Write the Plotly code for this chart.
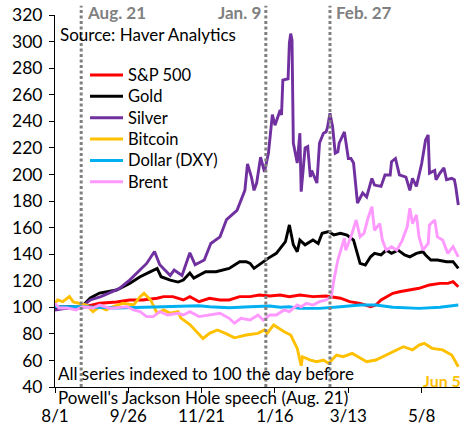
import plotly.graph_objects as go

# ---------------- data (index, day before Jackson Hole speech = 100) ----------------
sp_dates = ["2025-08-01","2025-08-05","2025-08-20","2025-09-04","2025-09-17","2025-09-27","2025-10-07",
            "2025-10-18","2025-10-23","2025-10-30","2025-11-07","2025-11-12","2025-11-19","2025-11-27",
            "2025-12-05","2025-12-12","2025-12-20","2025-12-28","2026-01-04","2026-01-12","2026-01-20",
            "2026-01-27","2026-02-04","2026-02-14","2026-02-24","2026-02-27","2026-03-07","2026-03-14",
            "2026-03-22","2026-03-30","2026-04-03","2026-04-07","2026-04-11","2026-04-16","2026-04-21",
            "2026-04-29","2026-05-06","2026-05-14","2026-05-22","2026-05-28","2026-06-01","2026-06-05"]
sp_vals = [98,100.4,99.5,103,104,105.5,105.5,106.8,108,108,105.5,108,104.2,106.8,105.5,105.5,108,108,
           109.2,108.5,109.2,108,109.2,108,108.5,108,106.8,104.2,103,100.4,101.7,105.5,108,110.5,111.7,
           113,114.3,116.8,118,118,119.3,115.5]

gold_dates = ["2025-08-01","2025-08-12","2025-08-21","2025-08-28","2025-09-04","2025-09-17","2025-09-27",
              "2025-10-05","2025-10-13","2025-10-18","2025-10-21","2025-10-28","2025-11-03","2025-11-07",
              "2025-11-12","2025-11-15","2025-11-24","2025-12-02","2025-12-12","2025-12-20","2025-12-25",
              "2025-12-28","2025-12-31","2026-01-05","2026-01-11","2026-01-17","2026-01-21","2026-01-24",
              "2026-01-27","2026-01-30","2026-02-02","2026-02-04","2026-02-08","2026-02-12","2026-02-14",
              "2026-02-18","2026-02-21","2026-02-26","2026-03-02","2026-03-07","2026-03-12","2026-03-17",
              "2026-03-19","2026-03-22","2026-03-26","2026-03-30","2026-04-02","2026-04-07","2026-04-11",
              "2026-04-15","2026-04-20","2026-04-25","2026-04-29","2026-05-04","2026-05-09","2026-05-11",
              "2026-05-15","2026-05-20","2026-05-27","2026-06-01","2026-06-05"]
gold_vals = [99.5,100.4,100,107,110.7,113,118,123,126.8,129.3,123,120.5,119,120.5,125.8,122,126.8,126.8,
             129.3,134.3,134.3,133,129.3,133,137,140.6,145.6,149.4,162,147,141.8,150.6,147,149.4,150.6,
             148,155.7,157,154.4,155.7,154.4,150.6,143,133,131.8,138,140.6,139.4,143,140.6,143,139.4,
             138,140.6,141.8,139.4,135.6,135.6,134.3,134.3,129.3]

silver_dates = ["2025-08-01","2025-08-08","2025-08-21","2025-08-28","2025-09-05","2025-09-12","2025-09-19",
                "2025-09-27","2025-10-03","2025-10-10","2025-10-16","2025-10-20","2025-10-28","2025-10-31",
                "2025-11-06","2025-11-12","2025-11-16","2025-11-23","2025-11-28","2025-12-05","2025-12-10",
                "2025-12-18","2025-12-24","2025-12-26","2025-12-29","2025-12-31","2026-01-02","2026-01-05",
                "2026-01-08","2026-01-11","2026-01-14","2026-01-16","2026-01-20","2026-01-21","2026-01-22",
                "2026-01-26","2026-01-27","2026-01-28","2026-01-29","2026-01-30","2026-02-02","2026-02-04",
                "2026-02-05","2026-02-08","2026-02-10","2026-02-12","2026-02-13","2026-02-17","2026-02-19",
                "2026-02-22","2026-02-24","2026-02-25","2026-02-27","2026-03-01","2026-03-03","2026-03-05",
                "2026-03-06","2026-03-10","2026-03-13","2026-03-15","2026-03-17","2026-03-19","2026-03-20",
                "2026-03-24","2026-03-27","2026-03-31","2026-04-02","2026-04-07","2026-04-10","2026-04-14",
                "2026-04-15","2026-04-18","2026-04-21","2026-04-26","2026-04-29","2026-05-01","2026-05-04",
                "2026-05-08","2026-05-11","2026-05-13","2026-05-14","2026-05-18","2026-05-19","2026-05-22",
                "2026-05-25","2026-05-27","2026-05-31","2026-06-02","2026-06-03","2026-06-05"]
silver_vals = [98,99,100,105.5,108,110.7,114,120.5,126,133,142,132,124,128,124,141,132,135.6,148,153,166,
               173,188,208,198,188,193.5,213,202,216,245,237,248.5,244.7,271,272,299,306,301,223.6,208.6,
               231,187,220,221,198,203,193.5,223.6,231,232,235,246,236,216,217,223.6,232,212,212,208.6,188,
               178.5,186,183,197,192,191,199.6,199.6,209.6,212,199.6,198,188,197,191,208,226,229.7,201,203,
               196,201,205,196,197,196,191,177]

btc_dates = ["2025-08-01","2025-08-03","2025-08-07","2025-08-12","2025-08-15","2025-08-20","2025-08-25",
             "2025-08-30","2025-09-04","2025-09-09","2025-09-14","2025-09-22","2025-09-30","2025-10-05",
             "2025-10-08","2025-10-13","2025-10-18","2025-10-23","2025-10-28","2025-11-03","2025-11-05",
             "2025-11-12","2025-11-17","2025-11-22","2025-11-27","2025-12-03","2025-12-10","2025-12-16",
             "2025-12-25","2026-01-03","2026-01-08","2026-01-10","2026-01-15","2026-01-23","2026-01-28",
             "2026-02-02","2026-02-05","2026-02-06","2026-02-12","2026-02-17","2026-02-22","2026-02-26",
             "2026-03-04","2026-03-09","2026-03-16","2026-03-27","2026-04-03","2026-04-11","2026-04-19",
             "2026-04-24","2026-05-01","2026-05-06","2026-05-10","2026-05-16","2026-05-24","2026-05-31",
             "2026-06-05"]
btc_vals = [103,105.5,104.2,108,104,103,101.7,96.7,100.4,98,100.4,103,101.7,108,110.5,105.5,95.5,98,95.5,
            96.7,92,87,81.6,76.5,80.4,82.9,80,77,79.1,80.4,83,80.4,86.7,81.6,79.1,69,56,62.8,60.3,59,60.3,
            57.8,64,62.8,65.3,59,60.3,64,67.9,70.3,67.9,71.6,72.9,69.1,67.9,64,55.3]

dxy_dates = ["2025-08-01","2025-08-21","2025-09-17","2025-10-13","2025-11-07","2025-11-19","2025-11-27",
             "2025-12-12","2025-12-28","2026-01-12","2026-01-20","2026-01-27","2026-02-04","2026-02-19",
             "2026-03-07","2026-03-22","2026-04-03","2026-04-16","2026-05-06","2026-05-22","2026-06-05"]
dxy_vals = [100.5,100.4,99.5,100.2,101,101.2,100.4,99.7,100.4,101,100,100.4,99.2,99.2,100.4,101.7,101.7,
            100,99.2,100,101.7]

brent_dates = ["2025-08-01","2025-08-04","2025-08-10","2025-08-17","2025-08-22","2025-08-30","2025-09-04",
               "2025-09-12","2025-09-25","2025-09-30","2025-10-05","2025-10-10","2025-10-15","2025-10-20",
               "2025-10-26","2025-11-03","2025-11-07","2025-11-12","2025-11-19","2025-11-27","2025-12-05",
               "2025-12-12","2025-12-16","2025-12-21","2025-12-28","2026-01-03","2026-01-07","2026-01-12",
               "2026-01-17","2026-01-23","2026-01-27","2026-02-02","2026-02-05","2026-02-09","2026-02-14",
               "2026-02-19","2026-02-24","2026-02-28","2026-03-02","2026-03-05","2026-03-07","2026-03-10",
               "2026-03-11","2026-03-15","2026-03-19","2026-03-22","2026-03-25","2026-03-28","2026-03-31",
               "2026-04-02","2026-04-06","2026-04-08","2026-04-11","2026-04-15","2026-04-19","2026-04-23",
               "2026-04-27","2026-04-29","2026-05-01","2026-05-04","2026-05-06","2026-05-09","2026-05-13",
               "2026-05-14","2026-05-18","2026-05-20","2026-05-24","2026-05-28","2026-06-01","2026-06-05"]
brent_vals = [103,99.5,99.5,98,100.4,99.5,101.7,99.2,100.4,98,96.7,93,93,96.7,94.2,95.5,94.2,96.7,93,94.2,
              95.5,91.7,88,91.7,90.4,94.2,90.4,94.2,94.2,98,96.7,101.7,100.4,103,101.7,104.2,105.5,108,
              120.5,135.6,143,152,143,153,165.7,153,155.7,167,175.7,158,163,150.6,143,145.6,143,150,160.6,
              174.5,163,169.5,153,143,148,162,165.7,153,150.6,140.6,145.6,138]

series_names = ["S&P 500", "Gold", "Silver", "Bitcoin", "Dollar (DXY)", "Brent"]
event_dates = ["2025-08-21", "2026-01-09", "2026-02-27"]
event_labels = ["Aug. 21", "Jan. 9", "Feb. 27"]
tick_dates = ["2025-08-01", "2025-09-26", "2025-11-21", "2026-01-16", "2026-03-13", "2026-05-08"]
tick_text = ["8/1", "9/26", "11/21", "1/16", "3/13", "5/8"]

FONT = "Lato"
colors = ["#FF0000", "#000000", "#7030A0", "#FFC000", "#00B0F0", "#FF99FF"]
data = [(sp_dates, sp_vals), (gold_dates, gold_vals), (silver_dates, silver_vals),
        (btc_dates, btc_vals), (dxy_dates, dxy_vals), (brent_dates, brent_vals)]

W, H = 476, 426
ML, MR, MT, MB = 55, 16, 15, 39
PW, PH = W - ML - MR, H - MT - MB
Y0, Y1 = 40, 320


def py(v):
    """value -> paper y (used for marks reaching beyond the axis range)"""
    return (v - Y0) / (Y1 - Y0)


def pxx(px):
    """figure pixel x -> paper x"""
    return (px - ML) / PW


def pxy(pyy):
    """figure pixel y -> paper y"""
    return 1 - (pyy - MT) / PH


fig = go.Figure()
for name, col, (d, v) in zip(series_names, colors, data):
    fig.add_trace(go.Scatter(x=d, y=v, mode="lines", name=name, showlegend=False,
                             line=dict(color=col, width=2.9), hoverinfo="skip"))

for d in event_dates:
    fig.add_shape(type="line", xref="x", yref="paper", x0=d, x1=d, y0=0, y1=py(327),
                  line=dict(color="#808080", width=3, dash="3px,2.5px"), layer="above")

lab_font = dict(family=FONT, size=17, color="#808080")
LAB_Y = pxy(12)
fig.add_annotation(x=event_dates[0], y=LAB_Y, xref="x", yref="paper", text="<b>" + event_labels[0] + "</b>",
                   showarrow=False, xanchor="left", yanchor="middle", xshift=4, font=lab_font)
fig.add_annotation(x=event_dates[1], y=LAB_Y, xref="x", yref="paper", text="<b>" + event_labels[1] + "</b>",
                   showarrow=False, xanchor="right", yanchor="middle", xshift=-3, font=lab_font)
fig.add_annotation(x=event_dates[2], y=LAB_Y, xref="x", yref="paper", text="<b>" + event_labels[2] + "</b>",
                   showarrow=False, xanchor="left", yanchor="middle", xshift=4, font=lab_font)

txt_font = dict(family=FONT, size=17, color="#000000")
fig.add_annotation(x="2025-08-01", y=pxy(35), xref="x", yref="paper", text="Source: Haver Analytics",
                   showarrow=False, xanchor="left", yanchor="middle", xshift=3, font=txt_font)
fig.add_annotation(x="2025-08-01", y=pxy(373), xref="x", yref="paper",
                   text="All series indexed to 100 the day before",
                   showarrow=False, xanchor="left", yanchor="middle", xshift=1, font=txt_font)
fig.add_annotation(x="2025-08-01", y=pxy(397), xref="x", yref="paper",
                   text="Powell's Jackson Hole speech (Aug. 21)",
                   showarrow=False, xanchor="left", yanchor="middle", xshift=1, font=txt_font)
fig.add_annotation(x="2026-06-05", y=pxy(380), xref="x", yref="paper", text="<b>Jun 5</b>",
                   showarrow=False, xanchor="right", yanchor="middle", xshift=5,
                   font=dict(family=FONT, size=16, color="#FFC000"))

# legend (drawn as line samples + labels, like the original)
leg_top, leg_step = 75, 21.35
for i, (name, col) in enumerate(zip(series_names, colors)):
    yy = pxy(leg_top + i * leg_step)
    fig.add_shape(type="line", xref="paper", yref="paper", x0=pxx(90), x1=pxx(123), y0=yy, y1=yy,
                  line=dict(color=col, width=3))
    fig.add_annotation(x=pxx(126), y=yy, xref="paper", yref="paper", text=name, showarrow=False,
                       xanchor="left", yanchor="middle", font=dict(family=FONT, size=16.5, color="#000000"))

fig.update_layout(
    width=W, height=H,
    margin=dict(l=ML, r=MR, t=MT, b=MB, autoexpand=False),
    paper_bgcolor="white", plot_bgcolor="white",
    font=dict(family=FONT, size=16, color="#000000"),
    showlegend=False,
    hovermode=False,
    xaxis=dict(type="date", range=["2025-08-01", "2026-06-06 07:00"], tickvals=tick_dates,
               ticktext=tick_text, showgrid=False, zeroline=False, showline=True, automargin=False,
               linecolor="#000000", linewidth=1, ticks="outside", ticklen=5, tickcolor="#000000",
               ticklabelstandoff=9, fixedrange=True,
               tickfont=dict(family=FONT, size=17, color="#000000")),
    yaxis=dict(range=[Y0, Y1], dtick=20, tick0=40, showgrid=False, zeroline=False, showline=True,
               automargin=False, fixedrange=True,
               linecolor="#000000", linewidth=1, ticks="outside", ticklen=5, tickcolor="#000000",
               ticklabelstandoff=3,
               tickfont=dict(family=FONT, size=17.5, color="#000000")),
)

# remove the browser's default 8px page margin so the figure sits at the window origin
fig.write_html("out.html", config={"displayModeBar": False, "staticPlot": True},
               post_script="document.body.style.margin='0';")
